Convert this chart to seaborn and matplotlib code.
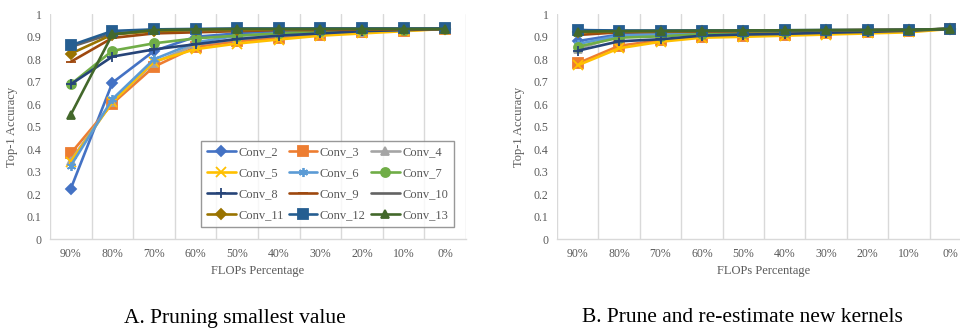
import numpy as np
import pandas as pd
import matplotlib
matplotlib.use("Agg")
import matplotlib.pyplot as plt
import seaborn as sns

categories = ["90%", "80%", "70%", "60%", "50%", "40%", "30%", "20%", "10%", "0%"]
series_names = ["Conv_2", "Conv_3", "Conv_4", "Conv_5", "Conv_6", "Conv_7",
                "Conv_8", "Conv_9", "Conv_10", "Conv_11", "Conv_12", "Conv_13"]

# Panel A: pruning smallest value
a_conv2 = [0.225, 0.696, 0.837, 0.900, 0.915, 0.925, 0.930, 0.930, 0.932, 0.935]
a_conv3 = [0.382, 0.603, 0.767, 0.855, 0.880, 0.895, 0.908, 0.920, 0.928, 0.935]
a_conv4 = [0.350, 0.612, 0.785, 0.865, 0.890, 0.905, 0.915, 0.922, 0.930, 0.935]
a_conv5 = [0.345, 0.610, 0.790, 0.845, 0.870, 0.888, 0.905, 0.915, 0.925, 0.935]
a_conv6 = [0.327, 0.623, 0.800, 0.875, 0.905, 0.915, 0.925, 0.928, 0.930, 0.935]
a_conv7 = [0.689, 0.838, 0.871, 0.893, 0.905, 0.915, 0.925, 0.930, 0.932, 0.935]
a_conv8 = [0.689, 0.812, 0.844, 0.867, 0.890, 0.905, 0.915, 0.925, 0.930, 0.935]
a_conv9 = [0.789, 0.895, 0.915, 0.920, 0.925, 0.930, 0.930, 0.932, 0.933, 0.935]
a_conv10 = [0.855, 0.915, 0.925, 0.930, 0.930, 0.933, 0.935, 0.935, 0.935, 0.935]
a_conv11 = [0.825, 0.910, 0.925, 0.930, 0.930, 0.933, 0.935, 0.935, 0.935, 0.935]
a_conv12 = [0.862, 0.926, 0.933, 0.935, 0.937, 0.937, 0.937, 0.937, 0.937, 0.937]
a_conv13 = [0.554, 0.911, 0.930, 0.933, 0.935, 0.935, 0.935, 0.935, 0.935, 0.935]

# Panel B: prune and re-estimate new kernels
b_conv2 = [0.881, 0.910, 0.915, 0.920, 0.920, 0.922, 0.925, 0.928, 0.930, 0.935]
b_conv3 = [0.782, 0.860, 0.885, 0.900, 0.905, 0.910, 0.915, 0.920, 0.925, 0.935]
b_conv4 = [0.845, 0.905, 0.912, 0.918, 0.920, 0.922, 0.925, 0.928, 0.930, 0.935]
b_conv5 = [0.773, 0.849, 0.878, 0.896, 0.900, 0.905, 0.910, 0.915, 0.920, 0.935]
b_conv6 = [0.868, 0.905, 0.912, 0.918, 0.920, 0.922, 0.925, 0.928, 0.930, 0.935]
b_conv7 = [0.856, 0.896, 0.902, 0.912, 0.918, 0.920, 0.924, 0.927, 0.930, 0.935]
b_conv8 = [0.838, 0.880, 0.889, 0.905, 0.910, 0.913, 0.918, 0.922, 0.927, 0.935]
b_conv9 = [0.908, 0.920, 0.922, 0.923, 0.925, 0.926, 0.928, 0.930, 0.930, 0.935]
b_conv10 = [0.930, 0.925, 0.925, 0.926, 0.927, 0.928, 0.929, 0.930, 0.931, 0.935]
b_conv11 = [0.920, 0.923, 0.925, 0.926, 0.927, 0.928, 0.929, 0.930, 0.931, 0.935]
b_conv12 = [0.930, 0.928, 0.928, 0.928, 0.928, 0.929, 0.930, 0.930, 0.931, 0.935]
b_conv13 = [0.923, 0.925, 0.926, 0.927, 0.928, 0.929, 0.930, 0.930, 0.931, 0.935]

panel_a = [a_conv2, a_conv3, a_conv4, a_conv5, a_conv6, a_conv7,
           a_conv8, a_conv9, a_conv10, a_conv11, a_conv12, a_conv13]
panel_b = [b_conv2, b_conv3, b_conv4, b_conv5, b_conv6, b_conv7,
           b_conv8, b_conv9, b_conv10, b_conv11, b_conv12, b_conv13]

captions = ["A. Pruning smallest value", "B. Prune and re-estimate new kernels"]
x_label = "FLOPs Percentage"
y_label = "Top-1 Accuracy"
y_ticks = [0, 0.1, 0.2, 0.3, 0.4, 0.5, 0.6, 0.7, 0.8, 0.9, 1]

colors = ["#4472C4", "#ED7D31", "#A5A5A5", "#FFC000", "#5B9BD5", "#70AD47",
          "#264478", "#9E480E", "#636363", "#997300", "#255E91", "#43682B"]
markers = ["D", "s", "^", "x", (6, 2, 0), "o", "+", "_", "None", "D", "s", "^"]
msizes = [5.3, 6.8, 5.8, 6.5, 6.5, 6.5, 7.5, 7, 0, 5.3, 7.2, 6.3]

sns.set_theme(style="white")
plt.rcParams["font.family"] = ["Liberation Serif", "DejaVu Serif"]

text_color = "#595959"
grid_color = "#D9D9D9"

fig = plt.figure(figsize=(9.6, 3.31), dpi=100)
W, H = 960, 331
ax_a = fig.add_axes([50 / W, 1 - 239.3 / H, 416 / W, 225 / H])
ax_b = fig.add_axes([557 / W, 1 - 239.3 / H, 414 / W, 225 / H])

for ax, panel in [(ax_a, panel_a), (ax_b, panel_b)]:
    xpos = np.arange(len(categories))
    for i, (name, vals) in enumerate(zip(series_names, panel)):
        df = pd.DataFrame({"x": xpos, "y": vals})
        sns.lineplot(data=df, x="x", y="y", ax=ax, color=colors[i],
                     marker=markers[i], markersize=msizes[i], linewidth=1.9,
                     markeredgecolor=colors[i], markeredgewidth=1.3,
                     label=name, zorder=3 + i, legend=False)
    ax.set_xlim(-0.5, len(categories) - 0.5)
    ax.set_ylim(0, 1)
    ax.set_xticks(xpos)
    ax.set_xticklabels(categories)
    ax.set_yticks(y_ticks)
    ax.set_yticklabels([f"{v:g}" for v in y_ticks])
    for b in np.arange(-0.5, len(categories), 1.0):
        ax.axvline(b, color=grid_color, linewidth=1.0, zorder=1)
    for s in ["top", "right", "left"]:
        ax.spines[s].set_visible(False)
    ax.spines["bottom"].set_color(grid_color)
    ax.spines["bottom"].set_linewidth(1.0)
    ax.tick_params(axis="both", length=0, labelsize=8.5, colors=text_color, pad=6)
    ax.set_xlabel(x_label, fontsize=9, color=text_color, labelpad=4)
    ax.set_ylabel(y_label, fontsize=9, color=text_color, labelpad=6)
    ax.set_facecolor("none")

handles, labels = ax_a.get_legend_handles_labels()
# reorder so that the legend reads row-wise in 3 columns
order = []
ncol = 3
nrow = int(np.ceil(len(handles) / ncol))
for c in range(ncol):
    for r in range(nrow):
        idx = r * ncol + c
        if idx < len(handles):
            order.append(idx)
leg = ax_a.legend([handles[i] for i in order], [labels[i] for i in order],
                  ncol=ncol, loc="lower right", bbox_to_anchor=(0.971, 0.055),
                  borderaxespad=0, fontsize=9, frameon=True, fancybox=False,
                  handlelength=2.3, handletextpad=0.2, columnspacing=0.4,
                  labelspacing=0.7, borderpad=0.48, labelcolor=text_color)
leg.get_frame().set_edgecolor("#7F7F7F")
leg.get_frame().set_linewidth(1.0)
leg.set_zorder(20)

fig.text(235 / W, 1 - 318 / H, captions[0], ha="center", va="center",
         fontsize=15.5, color="black")
fig.text(742 / W, 1 - 318 / H, captions[1], ha="center", va="center",
         fontsize=15.5, color="black")

fig.savefig("out.png", dpi=100, facecolor="white")
